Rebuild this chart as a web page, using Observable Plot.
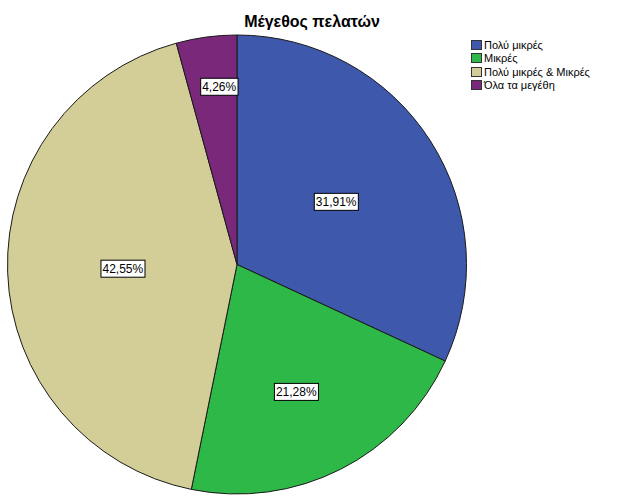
<!DOCTYPE html>
<html>
<head>
<meta charset="utf-8">
<script src="https://cdn.jsdelivr.net/npm/d3@7"></script>
<script src="https://cdn.jsdelivr.net/npm/@observablehq/plot@0.6"></script>
<style>
  html, body { margin: 0; padding: 0; background: #fff; }
  #wrap { position: relative; width: 626px; height: 501px; overflow: hidden; font-family: "Liberation Sans", Arial, sans-serif; }
  #title { position: absolute; left: 0; top: 13px; width: 624px; text-align: center; font-size: 16px; font-weight: bold; color: #000; line-height: 18px; }
  #legend { position: absolute; left: 471px; top: 38px; font-size: 11px; color: #000; }
  .item { display: flex; align-items: center; height: 13.5px; }
  .sw { width: 9px; height: 8px; border: 1px solid #333; margin-right: 2px; }
  #chart { position: absolute; left: 0; top: 0; }
</style>
</head>
<body>
<div id="wrap">
  <div id="chart"></div>
  <div id="title"></div>
  <div id="legend"></div>
</div>
<script>
const title = "Μέγεθος πελατών";
const categories = ["Πολύ μικρές", "Μικρές", "Πολύ μικρές & Μικρές", "Όλα τα μεγέθη"];
const percents = [31.91, 21.28, 42.55, 4.26];
const labels = ["31,91%", "21,28%", "42,55%", "4,26%"];
const colors = ["#3e58ac", "#2eb848", "#d3ce97", "#7a287a"];
// layout: label distance from centre (fraction of radius) and angular nudge (degrees)
const labelRadius = [0.51, 0.61, 0.5, 0.78];
const labelNudge = [0, 2, 0, 1.8];

document.getElementById("title").textContent = title;
const leg = document.getElementById("legend");
categories.forEach((c, i) => {
  const it = document.createElement("div");
  it.className = "item";
  const sw = document.createElement("div");
  sw.className = "sw";
  sw.style.background = colors[i];
  const t = document.createElement("span");
  t.textContent = c;
  it.appendChild(sw); it.appendChild(t);
  leg.appendChild(it);
});

const arcs = d3.pie().sort(null).value(d => d.value)(
  categories.map((c, i) => ({category: c, value: percents[i], label: labels[i], i}))
);
const labelData = arcs.map(a => {
  const mid = (a.startAngle + a.endAngle) / 2 + labelNudge[a.data.i] * Math.PI / 180;
  const r = labelRadius[a.data.i];
  return {label: a.data.label, x: r * Math.sin(mid), y: r * Math.cos(mid)};
});

const pieMark = (index, scales) => {
  const cx = scales.x(0), cy = scales.y(0);
  const r = Math.abs(scales.x(1) - scales.x(0));
  const arc = d3.arc().innerRadius(0).outerRadius(r);
  const g = d3.create("svg:g").attr("transform", `translate(${cx},${cy})`);
  g.selectAll("path").data(arcs).join("path")
    .attr("d", arc)
    .attr("fill", d => colors[d.data.i])
    .attr("stroke", "#1a1a1a")
    .attr("stroke-width", 1);
  return g.node();
};

const plot = Plot.plot({
  width: 626,
  height: 501,
  marginLeft: 7.5,
  marginRight: 159.5,
  marginTop: 35,
  marginBottom: 7,
  x: {domain: [-1, 1], axis: null},
  y: {domain: [-1, 1], axis: null},
  style: {background: "transparent", fontFamily: "Liberation Sans, Arial, sans-serif"},
  marks: [
    pieMark,
    Plot.text(labelData, {x: "x", y: "y", text: "label", fontSize: 12, fill: "#000"})
  ]
});
document.getElementById("chart").appendChild(plot);

// white boxes behind labels
d3.select(plot).selectAll('g[aria-label="text"] text').each(function() {
  const bb = this.getBBox();
  d3.select(this.parentNode).insert("rect", () => this)
    .attr("x", bb.x - 1.5).attr("y", bb.y - 1.5)
    .attr("width", bb.width + 3).attr("height", bb.height + 3)
    .attr("fill", "#fff").attr("stroke", "#000").attr("stroke-width", 1)
    .attr("transform", this.getAttribute("transform"));
});
</script>
</body>
</html>
